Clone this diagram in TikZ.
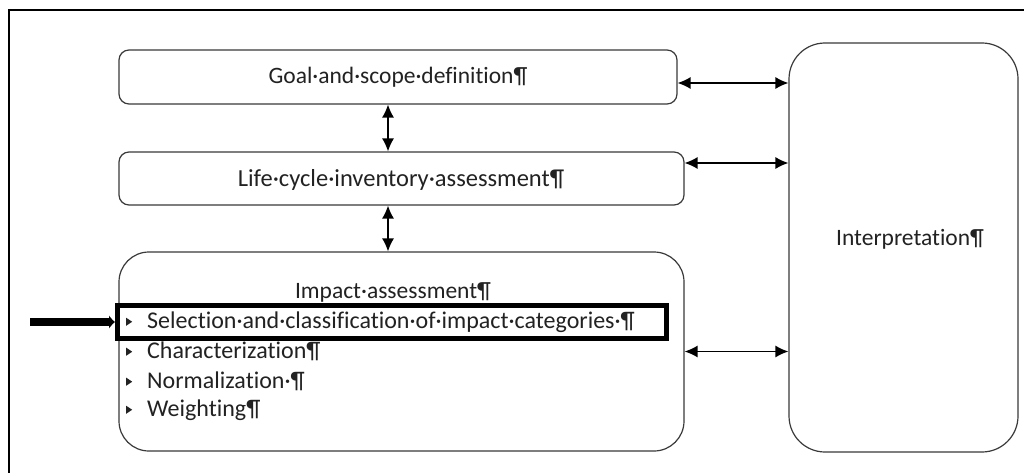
\documentclass[tikz,border=0pt]{standalone}
\usepackage{fontspec}
\setmainfont{Carlito}[Ligatures={NoCommon}]
\usetikzlibrary{arrows.meta}
\definecolor{txt}{HTML}{222222}
\definecolor{edge}{HTML}{3A3A3A}
\tikzset{
  box/.style={draw=edge, line width=1.2pt, inner sep=0pt},
  lbl/.style={text=txt, font=\fontsize{23.5}{26}\selectfont, inner sep=0pt, anchor=center},
  item/.style={text=txt, font=\fontsize{24}{26}\selectfont, inner sep=0pt, anchor=west},
  biarrow/.style={draw=black, line width=1.3pt, {Latex[length=13pt,width=12pt]}-{Latex[length=13pt,width=12pt]}},
  bigarrow/.style={draw=black, line width=8pt, -{Latex[length=6pt,width=14pt]}},
}
\newcommand{\bul}{\tikz[baseline=0pt]\fill[txt] (0,2.5pt)--(0,10.5pt)--(6pt,6.5pt)--cycle;\hspace{15pt}}
\begin{document}
\begin{tikzpicture}[x=1pt,y=-1pt]
\useasboundingbox (0,0) rectangle (1024,473);
\fill[white] (0,0) rectangle (1024,473);
% outer frame (cut off on right and bottom)
\draw[line width=2pt, black] (9,473) -- (9,10) -- (1024,10);
% boxes
\node[box, rounded corners=10pt, minimum width=558pt, minimum height=54pt] (goal) at (398,77) {};
\node[box, rounded corners=10pt, minimum width=565pt, minimum height=53pt] (lci) at (401.5,178.5) {};
\node[box, rounded corners=30pt, minimum width=565pt, minimum height=199pt] (impact) at (401.5,351.5) {};
\node[box, rounded corners=36pt, minimum width=229pt, minimum height=409pt] (interp) at (903.5,247.5) {};
% texts
\node[lbl] (tgoal) at (398,77) {Goal·and·scope·definition¶};
\node[lbl, font=\fontsize{24.5}{26}\selectfont] (tlci) at (401,180) {Life·cycle·inventory·assessment¶};
\node[lbl] (tint) at (910,239) {Interpretation¶};
\node[lbl] (timp) at (393,292) {Impact·assessment¶};
\node[item] (i1) at (126,322) {\bul Selection·and·classification·of·impact·categories·¶};
\node[item] (i2) at (126,351) {\bul Characterization¶};
\node[item] (i3) at (126,381) {\bul Normalization·¶};
\node[item] (i4) at (126,410) {\bul Weighting¶};
% highlight
\node[draw=black, line width=5pt, minimum width=549pt, minimum height=33pt, inner sep=0pt] (hl) at (392,322) {};
\coordinate (start) at (30,322);
\draw[bigarrow] (start) -- (hl.west);
% vertical arrows
\coordinate (vx) at (388,0);
\draw[biarrow] (goal.south -| vx) -- (lci.north -| vx);
\draw[biarrow] (lci.south -| vx) -- (impact.north -| vx);
% horizontal arrows
\coordinate (h1) at (0,83);
\coordinate (h2) at (0,163);
\draw[biarrow] (goal.east |- h1) -- (interp.west |- h1);
\draw[biarrow] (lci.east |- h2) -- (interp.west |- h2);
\draw[biarrow] (impact.east) -- (interp.west |- impact.east);
\end{tikzpicture}
\end{document}
